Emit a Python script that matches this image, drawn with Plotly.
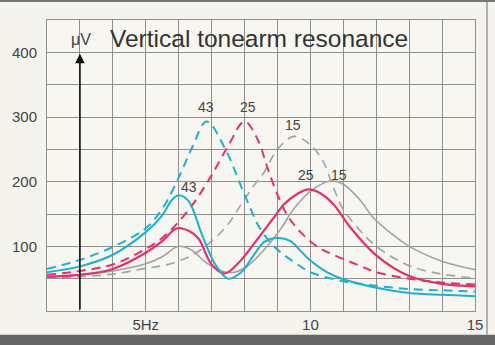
import plotly.graph_objects as go

# ---- data ----
x_cyan_dash = [2, 3, 4, 5, 5.5, 6, 6.4, 6.85, 7.4, 8.0, 8.5, 9.0, 9.5, 10, 11, 12, 13, 14, 15]
y_cyan_dash = [65, 79, 99, 128, 158, 206, 252, 293, 252, 180, 125, 95, 76, 60, 46, 39, 34, 32, 30]

x_mag_dash = [2, 3, 4, 5, 5.5, 6, 6.5, 7, 7.5, 8.0, 8.4, 8.7, 9.0, 9.3, 9.7, 10.2, 10.7, 11.5, 12, 13, 14, 15]
y_mag_dash = [56, 62, 72, 96, 113, 138, 170, 210, 255, 293, 265, 221, 180, 148, 122, 100, 87, 70, 60, 50, 44, 41]

x_grey_dash = [2, 3, 4, 5, 5.5, 6, 6.5, 7, 7.5, 7.9, 8.3, 8.6, 9.0, 9.5, 10, 10.4, 10.7, 11, 11.5, 12, 13, 14, 15]
y_grey_dash = [52, 53, 57, 66, 70, 77, 89, 108, 134, 165, 195, 215, 250, 270, 257, 230, 191, 157, 125, 100, 70, 57, 51]

x_cyan = [2, 3, 4, 5, 5.5, 5.8, 6.0, 6.3, 6.7, 7.1, 7.5, 7.9, 8.3, 8.6, 9.0, 9.4, 9.7, 10.0, 10.5, 11, 12, 13, 14, 15]
y_cyan = [60, 69, 87, 122, 148, 172, 179, 170, 119, 73, 50, 60, 88, 107, 113, 108, 93, 78, 60, 49, 36, 28, 25, 23]

x_mag = [2, 3, 4, 5, 5.5, 5.95, 6.3, 6.6, 7.0, 7.4, 7.9, 8.3, 8.6, 8.9, 9.2, 9.6, 9.95, 10.3, 10.7, 11.2, 12, 13, 14, 15]
y_mag = [53, 56, 65, 90, 108, 128, 124, 112, 72, 58, 79, 105, 125, 145, 165, 181, 188, 182, 165, 130, 86, 54, 42, 38]

x_grey = [2, 3, 4, 5, 5.5, 6.0, 6.4, 6.8, 7.3, 7.7, 8.1, 8.6, 9.1, 9.5, 10, 10.6, 11, 11.5, 11.9, 12.5, 13, 14, 15]
y_grey = [53, 56, 62, 73, 84, 100, 94, 76, 62, 60, 70, 95, 127, 158, 185, 201, 196, 172, 145, 118, 100, 77, 64]

x_tick_vals = [5, 10, 15]
x_tick_text = ["5Hz", "10", "15"]
y_tick_vals = [100, 200, 300, 400]
y_tick_text = ["100", "200", "300", "400"]

labels_text = ["43", "25", "15", "43", "25", "15"]
labels_x = [6.82, 8.09, 9.48, 6.3, 9.88, 10.88]
labels_y = [316, 316, 287, 192, 211, 211]

title_text = "Vertical tonearm resonance"
unit_text = "\u03bcV"

CYAN = "#1fb0cc"
MAG = "#e2306f"
GREY = "#a2a2a2"
DASH = "9px,6px"

fig = go.Figure()

def add(x, y, color, width, dash=None):
    fig.add_trace(go.Scatter(x=x, y=y, mode="lines",
                             line=dict(color=color, width=width, dash=dash, shape="spline", smoothing=1.0),
                             hoverinfo="skip", showlegend=False))

add(x_grey_dash, y_grey_dash, GREY, 1.6, DASH)
add(x_grey, y_grey, GREY, 1.6)
add(x_mag_dash, y_mag_dash, MAG, 2.0, DASH)
add(x_cyan_dash, y_cyan_dash, CYAN, 2.0, DASH)
add(x_mag, y_mag, MAG, 2.2)
add(x_cyan, y_cyan, CYAN, 2.0)

annotations = []
for t, xx, yy in zip(labels_text, labels_x, labels_y):
    annotations.append(dict(x=xx, y=yy, text=t, showarrow=False,
                            font=dict(size=14, color="#444", family="Liberation Sans")))

# arrow of the y-axis
annotations.append(dict(x=3, y=398, ax=3, ay=0, axref="x", ayref="y", xref="x", yref="y",
                        text="", showarrow=True, arrowhead=2, arrowsize=1.2,
                        arrowwidth=1.6, arrowcolor="#111"))
annotations.append(dict(x=3.02, y=420, text=unit_text, showarrow=False,
                        font=dict(size=16, color="#444", family="Liberation Sans")))
annotations.append(dict(x=3.85, y=421, text=title_text, showarrow=False, xanchor="left",
                        font=dict(size=24.5, color="#333", family="Liberation Sans")))

grid = "#8e8e8e"
fig.update_layout(
    width=495, height=345,
    margin=dict(l=45, r=20, t=20, b=30),
    paper_bgcolor="#f4f3ed",
    plot_bgcolor="#f7f6f1",
    annotations=annotations,
    xaxis=dict(range=[2, 15], tickvals=x_tick_vals, ticktext=x_tick_text,
               showgrid=True, gridcolor=grid, gridwidth=1, zeroline=False,
               minor=dict(dtick=1, tick0=2, showgrid=True, gridcolor=grid, gridwidth=1),
               showline=True, linecolor=grid, mirror=True, ticks="",
               tickfont=dict(size=15, color="#444", family="Liberation Sans")),
    yaxis=dict(range=[0, 450], tickvals=y_tick_vals, ticktext=y_tick_text,
               showgrid=True, gridcolor=grid, gridwidth=1, zeroline=False,
               minor=dict(dtick=50, tick0=0, showgrid=True, gridcolor=grid, gridwidth=1),
               showline=True, linecolor=grid, mirror=True, ticks="", ticklabelstandoff=6,
               tickfont=dict(size=15, color="#444", family="Liberation Sans")),
    shapes=[
        dict(type="rect", xref="paper", yref="paper", x0=-0.2, x1=1.2, y0=1.062, y1=1.2,
             fillcolor="#777", line=dict(width=0), layer="above"),
        dict(type="rect", xref="paper", yref="paper", x0=-0.2, x1=1.2, y0=-0.2, y1=-0.082,
             fillcolor="#666", line=dict(width=0), layer="above"),
        dict(type="line", xref="paper", yref="paper", x0=1.028, x1=1.028, y0=-0.082, y1=1.062,
             line=dict(color="#999", width=1.5), layer="above"),
    ],
)

fig.write_html("out.html")
